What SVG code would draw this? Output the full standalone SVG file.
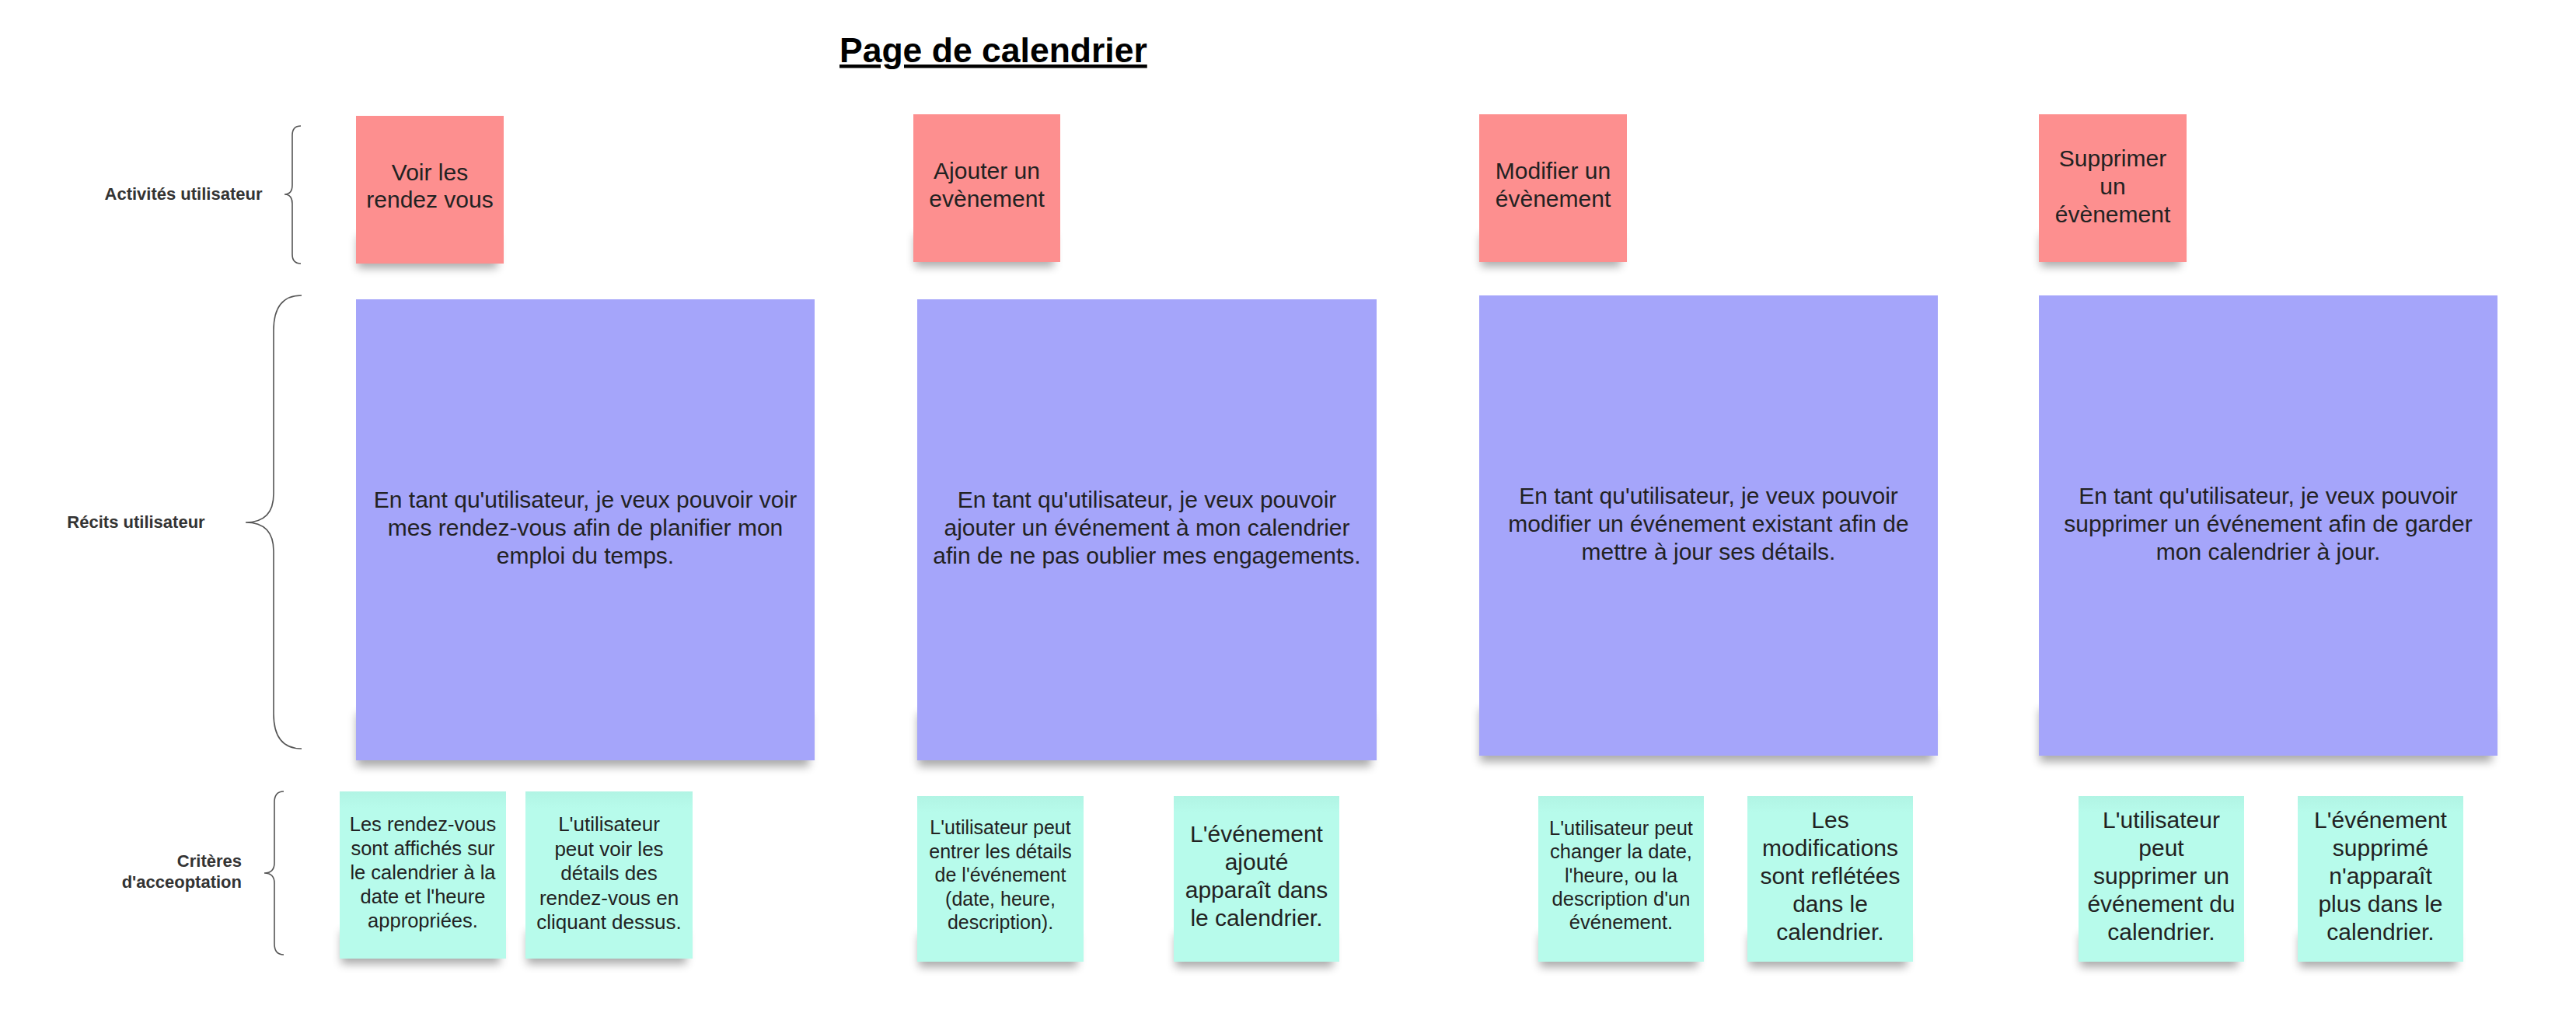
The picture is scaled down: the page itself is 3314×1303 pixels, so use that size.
<svg xmlns="http://www.w3.org/2000/svg" width="3314" height="1303" viewBox="0 0 3314 1303">
  <defs>
    <filter id="soft" x="-20%" y="-50%" width="140%" height="200%">
      <feGaussianBlur stdDeviation="6"/>
    </filter>
    <linearGradient id="mintFill" x1="0" y1="0" x2="0" y2="1">
      <stop offset="0" stop-color="#b1f4e4"/>
      <stop offset="0.1" stop-color="#b7fbeb"/>
      <stop offset="1" stop-color="#b7fbeb"/>
    </linearGradient>
  </defs>
  <style>
    .bg { fill: #ffffff; }
    .shade { fill: #000000; opacity: 0.33; filter: url(#soft); }
    .activity { fill: #fd8f8f; }
    .story { fill: #a5a5fa; }
    .criterion { fill: url(#mintFill); }
    .txt { font-family: "Liberation Sans", Arial, sans-serif; fill: #222222; text-anchor: middle; }
    .t30 { font-size: 30px; }
    .t26 { font-size: 26px; }
    .t255 { font-size: 25.5px; }
    .t25 { font-size: 25px; }
    .lbl { font-family: "Liberation Sans", Arial, sans-serif; font-weight: bold; font-size: 22px; fill: #333333; }
    .title { font-family: "Liberation Sans", Arial, sans-serif; font-weight: bold; font-size: 44.5px; fill: #000000; text-decoration: underline; }
    .brace { fill: none; stroke: #555555; stroke-width: 1.6; }
  </style>

  <rect class="bg" x="0" y="0" width="3314" height="1303"/>

  <!-- heading -->
  <text id="title" class="title" x="1080" y="80">Page de calendrier</text>

  <!-- row labels with their braces -->
  <g id="label-activites">
    <text class="lbl" x="236" y="257" text-anchor="middle">Activités utilisateur</text>
  </g>
  <g id="label-recits">
    <text class="lbl" x="175" y="679" text-anchor="middle">Récits utilisateur</text>
  </g>
  <g id="label-criteres">
    <text class="lbl" x="311" y="1115" text-anchor="end">Critères</text>
    <text class="lbl" x="311" y="1142" text-anchor="end">d'acceoptation</text>
  </g>

  <g id="connectors">
    <path class="brace" d="M387 162 Q376 162 376 174 L376 238 Q376 250 366 250 Q376 250 376 262 L376 327 Q376 339 387 339"/>
    <path class="brace" d="M388 380 Q352 380 352 425 L352 635 Q352 672 316 672 Q352 672 352 709 L352 918 Q352 963 388 963"/>
    <path class="brace" d="M365 1018 Q353 1018 353 1032 L353 1110 Q353 1123 340 1123 Q353 1123 353 1136 L353 1214 Q353 1228 365 1228"/>
  </g>

  <!-- user activities -->
  <g id="activite-voir">
    <rect class="shade" x="460" y="304" width="180" height="41"/>
    <rect class="activity" x="458" y="149" width="190" height="190"/>
    <text class="txt t30" x="553" y="232">Voir les</text>
    <text class="txt t30" x="553" y="267">rendez vous</text>
  </g>
  <g id="activite-ajouter">
    <rect class="shade" x="1177" y="302" width="179" height="41"/>
    <rect class="activity" x="1175" y="147" width="189" height="190"/>
    <text class="txt t30" x="1269.5" y="230">Ajouter un</text>
    <text class="txt t30" x="1269.5" y="266">evènement</text>
  </g>
  <g id="activite-modifier">
    <rect class="shade" x="1905" y="302" width="180" height="41"/>
    <rect class="activity" x="1903" y="147" width="190" height="190"/>
    <text class="txt t30" x="1998" y="230">Modifier un</text>
    <text class="txt t30" x="1998" y="266">évènement</text>
  </g>
  <g id="activite-supprimer">
    <rect class="shade" x="2625" y="302" width="180" height="41"/>
    <rect class="activity" x="2623" y="147" width="190" height="190"/>
    <text class="txt t30" x="2718" y="214">Supprimer</text>
    <text class="txt t30" x="2718" y="250">un</text>
    <text class="txt t30" x="2718" y="286">évènement</text>
  </g>

  <!-- user stories -->
  <g id="recit-voir">
    <rect class="shade" x="459" y="918" width="582" height="68"/>
    <rect class="story" x="458" y="385" width="590" height="593"/>
    <text class="txt t30" x="753" y="653">En tant qu'utilisateur, je veux pouvoir voir</text>
    <text class="txt t30" x="753" y="689">mes rendez-vous afin de planifier mon</text>
    <text class="txt t30" x="753" y="725">emploi du temps.</text>
  </g>
  <g id="recit-ajouter">
    <rect class="shade" x="1181" y="918" width="583" height="68"/>
    <rect class="story" x="1180" y="385" width="591" height="593"/>
    <text class="txt t30" x="1475.5" y="653">En tant qu'utilisateur, je veux pouvoir</text>
    <text class="txt t30" x="1475.5" y="689">ajouter un événement à mon calendrier</text>
    <text class="txt t30" x="1475.5" y="725">afin de ne pas oublier mes engagements.</text>
  </g>
  <g id="recit-modifier">
    <rect class="shade" x="1904" y="912" width="582" height="68"/>
    <rect class="story" x="1903" y="380" width="590" height="592"/>
    <text class="txt t30" x="2198" y="648">En tant qu'utilisateur, je veux pouvoir</text>
    <text class="txt t30" x="2198" y="684">modifier un événement existant afin de</text>
    <text class="txt t30" x="2198" y="720">mettre à jour ses détails.</text>
  </g>
  <g id="recit-supprimer">
    <rect class="shade" x="2624" y="912" width="582" height="68"/>
    <rect class="story" x="2623" y="380" width="590" height="592"/>
    <text class="txt t30" x="2918" y="648">En tant qu'utilisateur, je veux pouvoir</text>
    <text class="txt t30" x="2918" y="684">supprimer un événement afin de garder</text>
    <text class="txt t30" x="2918" y="720">mon calendrier à jour.</text>
  </g>

  <!-- acceptance criteria -->
  <g id="critere-affichage">
    <rect class="shade" x="439" y="1198" width="204" height="42"/>
    <rect class="criterion" x="437" y="1018" width="214" height="215"/>
    <text class="txt t255" x="544" y="1069">Les rendez-vous</text>
    <text class="txt t255" x="544" y="1100">sont affichés sur</text>
    <text class="txt t255" x="544" y="1131">le calendrier à la</text>
    <text class="txt t255" x="544" y="1162">date et l'heure</text>
    <text class="txt t255" x="544" y="1193">appropriées.</text>
  </g>
  <g id="critere-details">
    <rect class="shade" x="678" y="1198" width="205" height="42"/>
    <rect class="criterion" x="676" y="1018" width="215" height="215"/>
    <text class="txt t26" x="783.5" y="1069">L'utilisateur</text>
    <text class="txt t26" x="783.5" y="1100.5">peut voir les</text>
    <text class="txt t26" x="783.5" y="1132">détails des</text>
    <text class="txt t26" x="783.5" y="1163.5">rendez-vous en</text>
    <text class="txt t26" x="783.5" y="1195">cliquant dessus.</text>
  </g>
  <g id="critere-saisie">
    <rect class="shade" x="1182" y="1202" width="204" height="42"/>
    <rect class="criterion" x="1180" y="1024" width="214" height="213"/>
    <text class="txt t25" x="1287" y="1073">L'utilisateur peut</text>
    <text class="txt t25" x="1287" y="1103.5">entrer les détails</text>
    <text class="txt t25" x="1287" y="1134">de l'événement</text>
    <text class="txt t25" x="1287" y="1164.5">(date, heure,</text>
    <text class="txt t25" x="1287" y="1195">description).</text>
  </g>
  <g id="critere-ajout-visible">
    <rect class="shade" x="1512" y="1202" width="203" height="42"/>
    <rect class="criterion" x="1510" y="1024" width="213" height="213"/>
    <text class="txt t30" x="1616.5" y="1083">L'événement</text>
    <text class="txt t30" x="1616.5" y="1119">ajouté</text>
    <text class="txt t30" x="1616.5" y="1155">apparaît dans</text>
    <text class="txt t30" x="1616.5" y="1191">le calendrier.</text>
  </g>
  <g id="critere-modification">
    <rect class="shade" x="1981" y="1202" width="203" height="42"/>
    <rect class="criterion" x="1979" y="1024" width="213" height="213"/>
    <text class="txt t255" x="2085.5" y="1074">L'utilisateur peut</text>
    <text class="txt t255" x="2085.5" y="1104">changer la date,</text>
    <text class="txt t255" x="2085.5" y="1134.5">l'heure, ou la</text>
    <text class="txt t255" x="2085.5" y="1165">description d'un</text>
    <text class="txt t255" x="2085.5" y="1195">événement.</text>
  </g>
  <g id="critere-modif-visible">
    <rect class="shade" x="2250" y="1202" width="203" height="42"/>
    <rect class="criterion" x="2248" y="1024" width="213" height="213"/>
    <text class="txt t30" x="2354.5" y="1065">Les</text>
    <text class="txt t30" x="2354.5" y="1101">modifications</text>
    <text class="txt t30" x="2354.5" y="1137">sont reflétées</text>
    <text class="txt t30" x="2354.5" y="1173">dans le</text>
    <text class="txt t30" x="2354.5" y="1209">calendrier.</text>
  </g>
  <g id="critere-suppression">
    <rect class="shade" x="2676" y="1202" width="203" height="42"/>
    <rect class="criterion" x="2674" y="1024" width="213" height="213"/>
    <text class="txt t30" x="2780.5" y="1065">L'utilisateur</text>
    <text class="txt t30" x="2780.5" y="1101">peut</text>
    <text class="txt t30" x="2780.5" y="1137">supprimer un</text>
    <text class="txt t30" x="2780.5" y="1173">événement du</text>
    <text class="txt t30" x="2780.5" y="1209">calendrier.</text>
  </g>
  <g id="critere-suppr-visible">
    <rect class="shade" x="2958" y="1202" width="203" height="42"/>
    <rect class="criterion" x="2956" y="1024" width="213" height="213"/>
    <text class="txt t30" x="3062.5" y="1065">L'événement</text>
    <text class="txt t30" x="3062.5" y="1101">supprimé</text>
    <text class="txt t30" x="3062.5" y="1137">n'apparaît</text>
    <text class="txt t30" x="3062.5" y="1173">plus dans le</text>
    <text class="txt t30" x="3062.5" y="1209">calendrier.</text>
  </g>
</svg>
